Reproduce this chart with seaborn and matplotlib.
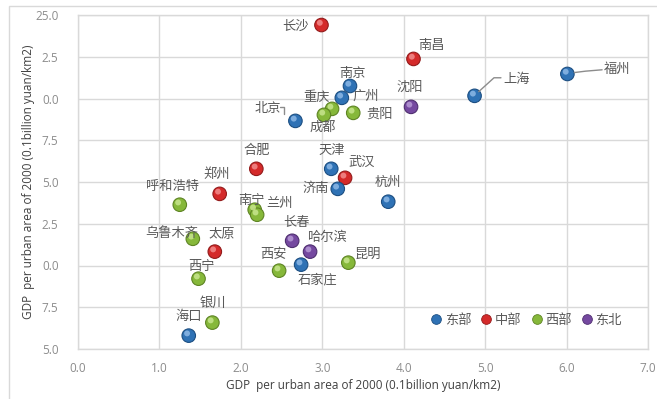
import matplotlib
matplotlib.use("Agg")
import matplotlib.pyplot as plt
import matplotlib.transforms as mtransforms
from matplotlib.lines import Line2D
from matplotlib.patches import Rectangle
import seaborn as sns
import pandas as pd

# City data: GDP per urban area (x) and the vertical measure (y)
cities = ["长沙", "南昌", "南京", "广州", "重庆", "成都", "贵阳", "北京", "沈阳", "上海",
          "福州", "合肥", "天津", "武汉", "济南", "杭州", "郑州", "呼和浩特", "南宁", "兰州",
          "乌鲁木齐", "太原", "长春", "哈尔滨", "西安", "石家庄", "昆明", "西宁", "银川", "海口"]
x_vals = [2.99, 4.12, 3.34, 3.24, 3.12, 3.02, 3.38, 2.67, 4.09, 4.87,
          6.01, 2.19, 3.11, 3.28, 3.19, 3.81, 1.74, 1.25, 2.17, 2.20,
          1.41, 1.68, 2.63, 2.85, 2.47, 2.74, 3.32, 1.48, 1.65, 1.36]
y_vals = [24.40, 22.37, 20.75, 20.04, 19.38, 19.02, 19.14, 18.66, 19.50, 20.16,
          21.47, 15.79, 15.79, 15.25, 14.59, 13.82, 14.29, 13.64, 13.34, 13.04,
          11.60, 10.83, 11.48, 10.83, 9.69, 10.05, 10.17, 9.21, 6.58, 5.80]
regions = ["中部", "中部", "东部", "东部", "西部", "西部", "西部", "东部", "东北", "东部",
           "东部", "中部", "东部", "中部", "东部", "东部", "中部", "西部", "西部", "西部",
           "西部", "中部", "东北", "东北", "西部", "东部", "西部", "西部", "西部", "东部"]

region_order = ["东部", "中部", "西部", "东北"]
region_colors = ["#2F72B5", "#D42A2A", "#86B83A", "#7549A0"]
region_edges = ["#1D4F82", "#931B1B", "#5E8424", "#4F2F70"]
region_lights = ["#8DB8E6", "#F28C8C", "#C8E58E", "#B79AD6"]

x_ticks = [0.0, 1.0, 2.0, 3.0, 4.0, 5.0, 6.0, 7.0]
y_ticks = [5.0, 7.5, 10.0, 12.5, 15.0, 17.5, 20.0, 22.5, 25.0]
y_tick_labels = ["5.0", "7.5", "0.0", "2.5", "5.0", "7.5", "0.0", "2.5", "25.0"]

# label offsets (points) from each marker, and optional leader lines
label_offsets = {
    "长沙": (-19, -1), "南昌": (13, 10), "南京": (2, 9), "广州": (17, 1), "重庆": (-11, 8),
    "成都": (-1, -9), "贵阳": (19, -1), "北京": (-20, 9), "沈阳": (-1, 14), "上海": (30, 12),
    "福州": (36, 3), "合肥": (0, 13), "天津": (0, 13), "武汉": (12, 11), "济南": (-16, 0),
    "杭州": (0, 14), "郑州": (-2, 14), "呼和浩特": (-5, 13), "南宁": (-2, 7), "兰州": (16, 8),
    "乌鲁木齐": (-15, 4), "太原": (5, 12), "长春": (3, 13), "哈尔滨": (12, 10), "西安": (-4, 12),
    "石家庄": (12, -11), "昆明": (14, 6), "西宁": (2, 9), "银川": (0, 14), "海口": (0, 14),
}
leaders = {"上海": [(3, 3), (14, 13), (19, 13)], "福州": [(5, 1), (13, 2), (25, 3)],
           "北京": [(-11, 10), (-8, 10), (-8, 5)]}

df = pd.DataFrame({"city": cities, "x": x_vals, "y": y_vals, "region": regions})

sns.set_theme(style="white")
plt.rcParams["font.family"] = ["Noto Sans CJK SC", "DejaVu Sans"]

fig = plt.figure(figsize=(6.57, 3.99), dpi=100)
ax = fig.add_axes([78 / 657, 1 - 349 / 399, 570 / 657, 334 / 399])

# outer chart frame
fig.patches.append(Rectangle((9 / 657, -0.01), 1.0, 1 - 6 / 399 + 0.01, transform=fig.transFigure,
                             fill=False, edgecolor="#D9D9D9", linewidth=1.0, zorder=0))

palette = dict(zip(region_order, region_colors))
edge_map = dict(zip(region_order, region_edges))
light_map = dict(zip(region_order, region_lights))

sns.scatterplot(data=df, x="x", y="y", hue="region", hue_order=region_order, palette=palette,
                s=95, edgecolor=[edge_map[r] for r in df["region"]], linewidth=0.8,
                legend=False, ax=ax, zorder=3)
# glossy highlight on each sphere
hl = mtransforms.offset_copy(ax.transData, fig=fig, x=-1.2, y=1.6, units="points")
ax.scatter(df["x"], df["y"], s=18, c=[light_map[r] for r in df["region"]], alpha=0.85,
           linewidths=0, transform=hl, zorder=4)
ax.set_xlim(0, 7)
ax.set_ylim(5, 25)

for name, xv, yv in zip(cities, x_vals, y_vals):
    dx, dy = label_offsets[name]
    ax.annotate(name, (xv, yv), xytext=(dx, dy), textcoords="offset points",
                ha="center", va="center", fontsize=9.5, color="#595959", zorder=5)
    if name in leaders:
        xs = [p[0] for p in leaders[name]]
        ys = [p[1] for p in leaders[name]]
        # leader path given in points relative to the marker, anchored at the marker's display position
        anchor = ax.transData.transform((xv, yv))
        tr = mtransforms.Affine2D().scale(fig.dpi / 72).translate(*anchor)
        fig.add_artist(Line2D(xs, ys, transform=tr, color="#8C8C8C", linewidth=1.0, zorder=2))

ax.set_xticks(x_ticks)
ax.set_xticklabels([f"{t:.1f}" for t in x_ticks])
ax.set_yticks(y_ticks)
ax.set_yticklabels(y_tick_labels)
ax.grid(True, color="#D9D9D9", linewidth=1.0)
for sp in ax.spines.values():
    sp.set_color("#D9D9D9")
    sp.set_linewidth(1.0)
ax.tick_params(axis="both", length=0, labelsize=8.5, labelcolor="#8C8C8C")
ax.tick_params(axis="y", pad=14)
ax.tick_params(axis="x", pad=9)
for lab in ax.get_xticklabels() + ax.get_yticklabels():
    lab.set_family(["Open Sans", "DejaVu Sans"])

ax.set_xlabel("GDP  per urban area of 2000 (0.1billion yuan/km2)", fontsize=8.5,
              color="#404040", labelpad=3, family=["Open Sans", "DejaVu Sans"])
ax.set_ylabel("GDP  per urban area of 2000 (0.1billion yuan/km2)", fontsize=8.5,
              color="#404040", labelpad=0, family=["Open Sans", "DejaVu Sans"])
ax.yaxis.set_label_coords(-0.076, 0.5)

handles = [Line2D([], [], marker="o", linestyle="", markersize=7, markerfacecolor=c,
                  markeredgecolor=e, markeredgewidth=0.6)
           for c, e in zip(region_colors, region_edges)]
ax.legend(handles, region_order, loc="lower right", bbox_to_anchor=(0.975, 0.03), ncol=4,
          frameon=False, fontsize=9.5, handlelength=0.8, handletextpad=0.25,
          columnspacing=0.75, labelcolor="#595959")

fig.savefig("out.png", dpi=100)
